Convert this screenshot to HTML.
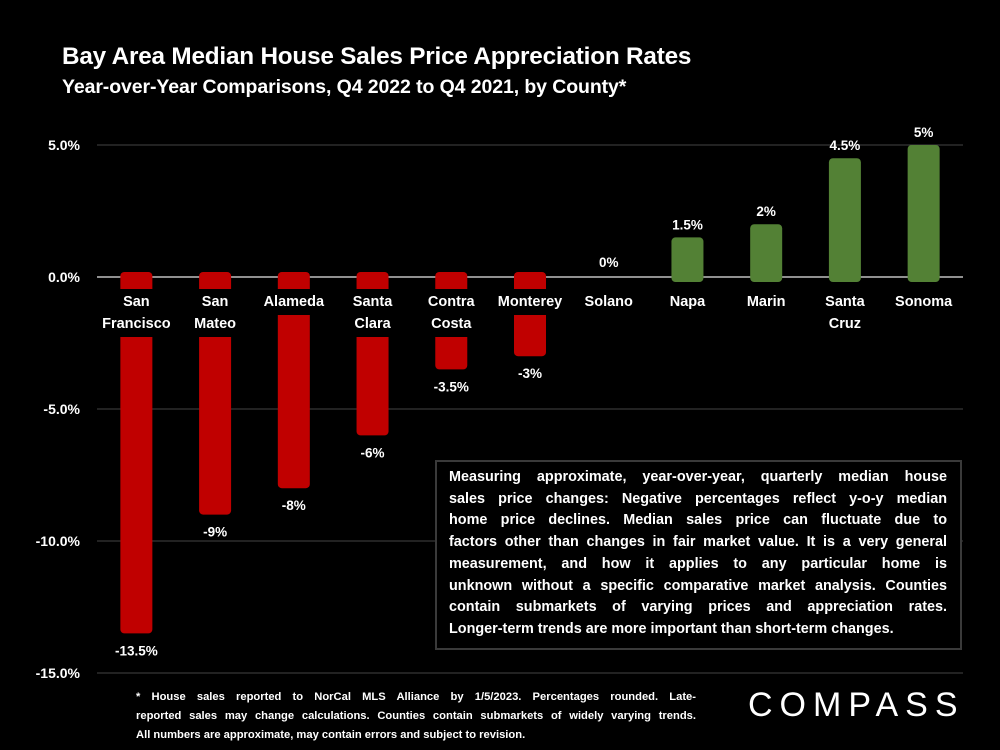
<!DOCTYPE html>
<html><head><meta charset="utf-8">
<style>
html,body{margin:0;padding:0;background:#000;}
#wrap{position:relative;width:1000px;height:750px;background:#000;overflow:hidden;font-family:"Liberation Sans",sans-serif;color:#fff;}
.t1{position:absolute;left:62px;top:43px;font-size:24.3px;font-weight:bold;letter-spacing:-0.2px;}
.t2{position:absolute;left:62px;top:76px;font-size:19.5px;font-weight:bold;letter-spacing:-0.1px;}
#note{position:absolute;left:435px;top:460px;width:498px;height:168px;border:2px solid #3a3a3a;background:#000;padding:5px 13px 13px 12px;font-size:14.4px;font-weight:bold;line-height:21.7px;}
#note div{text-align:justify;text-align-last:justify;white-space:nowrap;}
#note div.last{text-align-last:left;}
#foot{position:absolute;left:136px;top:688px;width:560px;font-size:11.2px;font-weight:bold;line-height:19px;}
#foot div{text-align:justify;text-align-last:justify;white-space:nowrap;}
#foot div.last{text-align-last:left;}
#logo{position:absolute;left:748px;top:686px;font-size:34px;letter-spacing:7px;font-weight:normal;}
</style></head>
<body>
<div id="wrap">
<div class="t1">Bay Area Median House Sales Price Appreciation Rates</div>
<div class="t2">Year-over-Year Comparisons, Q4 2022 to Q4 2021, by County*</div>
<svg id="chart" width="1000" height="750" style="position:absolute;left:0;top:0"></svg>
<div id="note">
<div>Measuring approximate, year-over-year, quarterly median house</div>
<div>sales price changes: Negative percentages reflect y-o-y median</div>
<div>home price declines. Median sales price can fluctuate due to</div>
<div>factors other than changes in fair market value. It is a very general</div>
<div>measurement, and how it applies to any particular home is</div>
<div>unknown without a specific comparative market analysis. Counties</div>
<div>contain submarkets of varying prices and appreciation rates.</div>
<div class="last">Longer-term trends are more important than short-term changes.</div>
</div>
<div id="foot">
<div>* House sales reported to NorCal MLS Alliance by 1/5/2023. Percentages rounded. Late-</div>
<div>reported sales may change calculations. Counties contain submarkets of widely varying trends.</div>
<div class="last">All numbers are approximate, may contain errors and subject to revision.</div>
</div>
<div id="logo">COMPASS</div>
</div>
<script>
const categories = [["San","Francisco"],["San","Mateo"],["Alameda"],["Santa","Clara"],["Contra","Costa"],["Monterey"],["Solano"],["Napa"],["Marin"],["Santa","Cruz"],["Sonoma"]];
const values = [-13.5,-9,-8,-6,-3.5,-3,0,1.5,2,4.5,5];
const valueLabels = ["-13.5%","-9%","-8%","-6%","-3.5%","-3%","0%","1.5%","2%","4.5%","5%"];
const ticks = [5,0,-5,-10,-15];
const tickLabels = ["5.0%","0.0%","-5.0%","-10.0%","-15.0%"];

const NS="http://www.w3.org/2000/svg";
const svg=document.getElementById('chart');
const x0=97, x1=963, yZero=277, pxPer=26.4;
const y=v=>yZero - v*pxPer;
const band=(x1-x0)/categories.length;
const xc=i=>x0+band*(i+0.5);
function mk(tag,attrs){const e=document.createElementNS(NS,tag);for(const k in attrs)e.setAttribute(k,attrs[k]);svg.appendChild(e);return e;}

ticks.forEach((t,i)=>{
  const g=mk('line',{x1:x0,x2:x1,y1:y(t),y2:y(t),stroke:t===0?'#bfbfbf':'#444','stroke-width':t===0?1.5:1});
  
  
  const tx=mk('text',{x:80,y:y(t)+5,'text-anchor':'end',fill:'#fff','font-size':14,'font-weight':'bold','font-family':'Liberation Sans, sans-serif'});
  tx.textContent=tickLabels[i];
  
  
});

values.forEach((v,i)=>{
  const w=32, cx=xc(i);
  if(v!==0){
    const neg=v<0;
    const top=neg? yZero-5 : y(v);
    const bot=neg? y(v) : yZero+5;
    const r=mk('rect',{x:cx-w/2,y:top,width:w,height:bot-top,rx:4,fill:neg?'#c00000':'#538135'});
    
    
  }
  const ly = v<0 ? y(v)+22 : (v===0? yZero-10 : y(v)-8);
  const lt=mk('text',{x:cx,y:ly,'text-anchor':'middle',fill:'#fff','font-size':13.5,'font-weight':'bold','font-family':'Liberation Sans, sans-serif'});
  lt.textContent=valueLabels[i];
  
  
});

categories.forEach((c,i)=>{
  const cx=xc(i);
  const bg=mk('rect',{x:cx-38,y:289,width:76,height:c.length*22+4,fill:'#000'});
  
  
  c.forEach((line,j)=>{
    const t=mk('text',{x:cx,y:306+j*22,'text-anchor':'middle',fill:'#fff','font-size':14.5,'font-weight':'bold','font-family':'Liberation Sans, sans-serif'});
    t.textContent=line;
    
    
  });
});
</script>
</body></html>
